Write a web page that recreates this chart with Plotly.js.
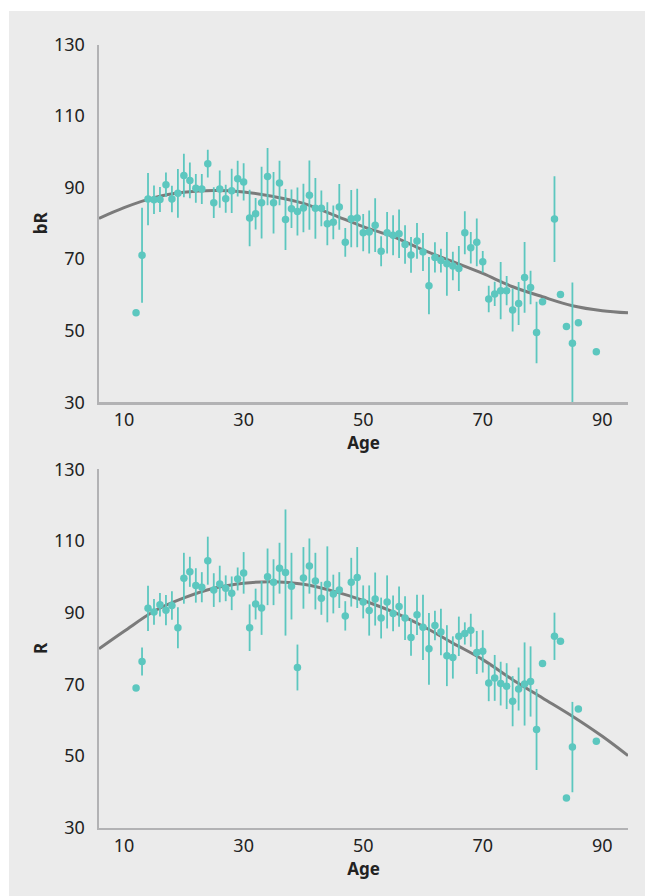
<!DOCTYPE html>
<html>
<head>
<meta charset="utf-8">
<script src="https://cdn.plot.ly/plotly-3.0.1.min.js"></script>
<style>html,body{margin:0;padding:0;background:#fff;}#chart{width:645px;height:896px;}</style>
</head>
<body>
<div id="chart"></div>
<script>
// Ages of the measured groups
const ages = [12,13,14,15,16,17,18,19,20,21,22,23,24,25,26,27,28,29,30,31,32,33,34,35,36,37,38,39,40,41,42,43,44,45,46,47,48,49,50,51,52,53,54,55,56,57,58,59,60,61,62,63,64,65,66,67,68,69,70,71,72,73,74,75,76,77,78,79,80,82,83,84,85,86,89];

// Top panel: bR
const bR = [55.0,71.1,86.8,86.6,86.7,90.8,86.8,88.4,93.4,92.0,89.8,89.6,96.7,85.8,89.6,86.9,89.1,92.5,91.6,81.5,82.7,85.8,93.1,85.8,91.3,81.1,84.1,83.3,84.3,87.9,84.2,84.2,79.9,80.3,84.6,74.7,81.3,81.5,77.4,77.6,79.5,72.2,77.4,76.7,77.1,74.1,71.2,75.1,72.0,62.6,70.5,69.6,68.7,68.1,67.4,77.4,73.2,74.7,69.3,58.9,60.3,61.2,61.2,55.8,57.6,64.9,62.1,49.5,58.1,81.2,60.1,51.2,46.5,52.2,44.1];
const bRerr = [0,13.3,7.3,4.0,3.5,3.4,3.7,6.8,6.1,5.0,4.0,4.2,3.9,4.3,5.2,3.9,6.2,5.0,5.2,7.9,4.4,10.0,8.0,8.6,6.2,8.5,5.4,6.7,6.8,9.7,8.5,5.0,6.0,4.7,6.4,4.0,8.0,8.2,5.2,6.0,7.5,4.2,5.8,5.6,6.8,5.4,5.0,5.0,5.3,8.0,4.2,3.3,8.9,4.0,6.3,6.0,4.4,6.7,3.0,3.7,3.4,8.0,4.1,6.0,6.0,9.9,4.7,8.6,0,12.0,0,0,17.0,0,0];

// Bottom panel: R
const R = [69.0,76.4,91.2,90.2,92.2,90.7,92.0,85.8,99.6,101.4,97.6,97.1,104.5,96.3,98.0,96.8,95.4,99.4,101.1,85.8,92.4,91.3,100.0,98.5,102.4,101.2,97.4,74.7,99.7,103.0,98.8,94.0,97.9,95.2,96.3,89.1,98.5,99.8,93.0,90.6,93.8,88.5,93.0,89.8,91.7,88.5,83.1,89.4,85.9,79.9,86.4,84.6,78.0,77.5,83.4,84.2,85.1,78.9,79.2,70.4,71.8,70.2,69.5,65.3,68.7,70.1,70.8,57.4,75.8,83.4,82.0,38.3,52.5,63.1,54.1];
const Rerr = [0,3.9,6.3,3.6,3.3,4.2,4.0,5.7,7.1,4.2,4.8,4.2,6.7,4.7,5.1,3.6,4.7,3.2,5.8,6.5,4.3,7.5,7.9,6.4,7.1,17.6,9.3,6.4,8.6,7.7,7.9,4.6,10.6,5.4,5.0,4.1,6.8,8.5,4.6,7.0,7.4,5.7,7.4,5.0,5.6,6.1,5.1,5.6,9.1,10.0,4.1,6.5,8.5,5.9,5.5,3.1,4.6,6.0,5.9,5.1,6.4,6.1,6.4,7.0,6.0,11.6,9.8,11.3,0,6.6,0,0,12.6,0,0];

// Fitted curves
const fitAges = [5.8,10,15,20,25,30,35,40,45,50,55,60,65,70,75,80,85,90,94.3];
const fitBR = [81.4,84.4,87.2,88.7,89.2,88.8,87.5,85.6,82.4,79.1,76.3,72.6,69.3,66.0,62.3,59.5,57.0,55.6,55.0];
const fitR = [79.9,84.8,90.4,94.1,96.8,98.2,98.6,97.9,96.0,93.4,90.2,86.2,81.5,76.9,71.3,66.2,61.1,55.5,50.1];

const yTicks = [30,50,70,90,110,130];
const xTicks = [10,30,50,70,90];

const teal = '#5cc7bf';
const curveCol = '#7b7b7b';
const font = 'Noto Sans, Open Sans, sans-serif';

function pts(y, err, xa, ya) {
  return {x: ages, y: y, xaxis: xa, yaxis: ya, type: 'scatter', mode: 'markers',
    marker: {color: teal, size: 7.5},
    error_y: {type: 'data', array: err, visible: true, color: teal, thickness: 1.8, width: 0},
    showlegend: false, hoverinfo: 'x+y'};
}
function curve(y, xa, ya) {
  return {x: fitAges, y: y, xaxis: xa, yaxis: ya, type: 'scatter', mode: 'lines',
    line: {color: curveCol, width: 3, shape: 'spline', smoothing: 1}, showlegend: false, hoverinfo: 'skip'};
}

const data = [curve(fitBR, 'x', 'y'), pts(bR, bRerr, 'x', 'y'), curve(fitR, 'x2', 'y2'), pts(R, Rerr, 'x2', 'y2')];

function xax(anchor) {
  return {domain: [99/645, 628/645], anchor: anchor, range: [5.8, 94.3], tickvals: xTicks,
    showgrid: false, zeroline: false, showline: true, linecolor: '#b2b2b4', linewidth: 2.5,
    ticks: '', ticklabelstandoff: 0, tickfont: {family: font, size: 18, color: '#222'},
    title: {text: 'Age', font: {family: font, size: 17, color: '#222', weight: 'bold'}, standoff: 4}};
}
function yax(anchor, dom, label) {
  return {domain: dom, anchor: anchor, range: [30, 130], tickvals: yTicks,
    showgrid: false, zeroline: false, showline: true, linecolor: '#b2b2b4', linewidth: 2.5,
    ticks: '', ticklabelstandoff: 8, tickfont: {family: font, size: 18, color: '#222'},
    title: {text: label, font: {family: font, size: 17, color: '#222', weight: 'bold'}, standoff: 2}};
}

const layout = {
  width: 645, height: 896,
  margin: {l: 0, r: 0, t: 0, b: 0},
  paper_bgcolor: '#ffffff', plot_bgcolor: '#ebebeb',
  xaxis: xax('y'), yaxis: yax('x', [1 - 402.3/896, 1 - 44.5/896], 'bR'),
  xaxis2: xax('y2'), yaxis2: yax('x2', [1 - 827.7/896, 1 - 469.3/896], 'R'),
  shapes: [{type: 'rect', xref: 'paper', yref: 'paper', x0: 9/645, x1: 1, y0: 0, y1: 1 - 11/896,
    fillcolor: '#ebebeb', line: {width: 0}, layer: 'below'}]
};

Plotly.newPlot('chart', data, layout, {displayModeBar: false, staticPlot: true});
</script>
</body>
</html>
